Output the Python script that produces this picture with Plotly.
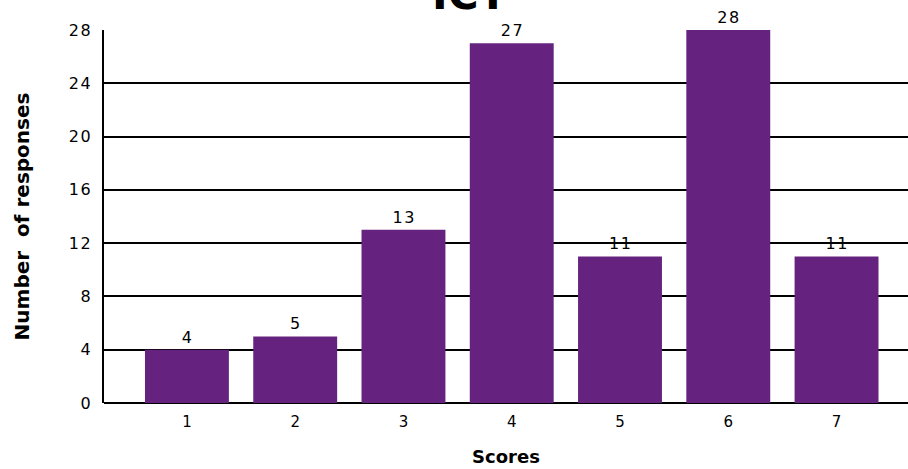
import plotly.graph_objects as go

scores = [1, 2, 3, 4, 5, 6, 7]
responses = [4, 5, 13, 27, 11, 28, 11]
y_ticks = [0, 4, 8, 12, 16, 20, 24, 28]

HS = "\u200a"  # hair space between digits, as in the reference

fig = go.Figure()
fig.add_trace(go.Bar(
    x=scores, y=responses, width=0.775,
    marker=dict(color="#65237F", line=dict(width=0)),
    text=[HS.join(str(v)) for v in responses], textposition="outside",
    textfont=dict(family="DejaVu Sans", size=16, color="#000"),
    cliponaxis=False,
))

fig.update_layout(
    width=908, height=469,
    margin=dict(l=104, r=0, t=30, b=66),
    plot_bgcolor="white", paper_bgcolor="white",
    showlegend=False,
    font=dict(family="DejaVu Sans", color="#000"),
    xaxis=dict(
        range=[0.234, 7.66], tickvals=scores, ticktext=[str(s) for s in scores],
        showgrid=False, zeroline=False, showline=False, ticks="",
        tickfont=dict(size=15), ticklabelstandoff=8,
        title=dict(text="<b>Scores</b>", font=dict(size=18), standoff=20),
    ),
    yaxis=dict(
        range=[0, 28], tickvals=y_ticks, ticktext=[HS.join(str(t)) for t in y_ticks],
        showgrid=True, gridcolor="#000", gridwidth=1.5,
        zeroline=True, zerolinecolor="#000", zerolinewidth=2,
        showline=True, linecolor="#000", linewidth=2,
        ticks="", tickfont=dict(size=16), ticklabelstandoff=8,
        title=dict(text="<b>Number  of responses</b>", font=dict(size=20), standoff=34),
    ),
    annotations=[dict(
        text="<b>ICT</b>", x=0.455, xref="paper", y=1.024, yref="paper",
        yanchor="bottom", showarrow=False, font=dict(size=42, family="DejaVu Sans"),
    )],
)
fig.write_html("out.html")
